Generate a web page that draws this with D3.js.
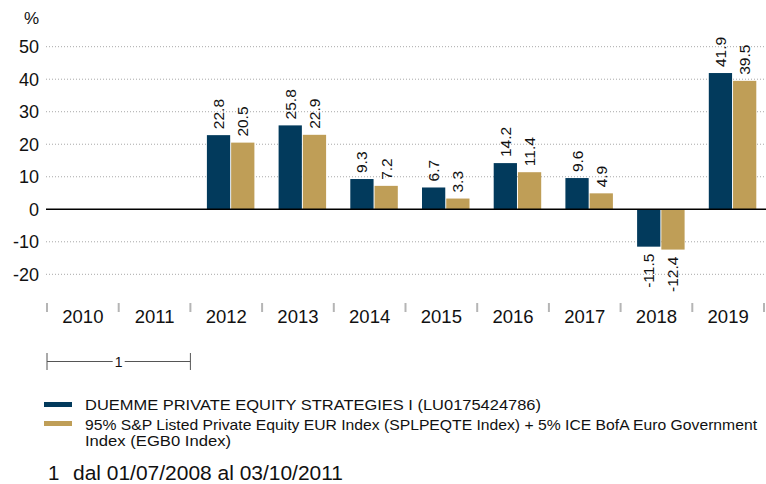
<!DOCTYPE html>
<html lang="it">
<head>
<meta charset="utf-8">
<title>Rendimenti annuali</title>
<script src="https://d3js.org/d3.v7.min.js"></script>
<style>
  body { margin: 0; background: #fff; }
  svg { display: block; font-family: "Liberation Sans", Arial, sans-serif; }
</style>
</head>
<body>
<svg width="766" height="484"></svg>
<script>
// data
const years = ["2010", "2011", "2012", "2013", "2014", "2015", "2016", "2017", "2018", "2019"];
const fundValues = [null, null, 22.8, 25.8, 9.3, 6.7, 14.2, 9.6, -11.5, 41.9];
const benchValues = [null, null, 20.5, 22.9, 7.2, 3.3, 11.4, 4.9, -12.4, 39.5];
const yTicks = [-20, -10, 0, 10, 20, 30, 40, 50];
const seriesNames = [
  "DUEMME PRIVATE EQUITY STRATEGIES I (LU0175424786)",
  "95% S&P Listed Private Equity EUR Index (SPLPEQTE Index) + 5% ICE BofA Euro Government",
  "Index (EGB0 Index)"
];
const footnote = "dal 01/07/2008 al 03/10/2011";

const navy = "#023a5c", gold = "#bf9e57";
const svg = d3.select("svg");

const x = d3.scaleBand().domain(years).range([47, 764]);
const inner = d3.scaleBand().domain(["fund", "bench"]).range([16.5, 64]).paddingInner(0.04);
const y = d3.scaleLinear().domain([-20, 50]).range([274.3, 46.7]);

// gridlines
svg.append("g").selectAll("line")
  .data(yTicks.filter(d => d !== 0))
  .enter().append("line")
  .attr("x1", 46).attr("x2", 766)
  .attr("y1", d => y(d)).attr("y2", d => y(d))
  .attr("stroke", "#a8a8a8").attr("stroke-width", 1)
  .attr("stroke-dasharray", "1,2");

// y labels
svg.append("g").selectAll("text")
  .data(yTicks)
  .enter().append("text")
  .attr("x", 39).attr("y", d => y(d))
  .attr("dy", "0.35em")
  .attr("text-anchor", "end")
  .attr("font-size", 18)
  .attr("fill", "#111")
  .text(d => d);

svg.append("text").attr("x", 39).attr("y", 24)
  .attr("text-anchor", "end").attr("font-size", 17).attr("fill", "#111").text("%");

// bars
const rows = years.map((yr, i) => ({ year: yr, fund: fundValues[i], bench: benchValues[i] }));
const groups = svg.append("g").selectAll("g")
  .data(rows).enter().append("g")
  .attr("transform", d => `translate(${x(d.year)},0)`);

const cells = groups.selectAll("g")
  .data(d => [{ key: "fund", v: d.fund }, { key: "bench", v: d.bench }].filter(c => c.v !== null))
  .enter().append("g");

cells.append("rect")
  .attr("x", d => inner(d.key))
  .attr("width", inner.bandwidth())
  .attr("y", d => y(Math.max(0, d.v)))
  .attr("height", d => Math.abs(y(d.v) - y(0)))
  .attr("fill", d => d.key === "fund" ? navy : gold);

cells.append("text")
  .attr("transform", d => {
    const cx = inner(d.key) + inner.bandwidth() / 2;
    const cy = d.v >= 0 ? y(d.v) - 6 : y(d.v) + 7;
    return `translate(${cx + 5.5},${cy}) rotate(-90)`;
  })
  .attr("text-anchor", d => d.v >= 0 ? "start" : "end")
  .attr("font-size", 15.5)
  .attr("fill", "#111")
  .text(d => d.v.toFixed(1));

// zero line
svg.append("line")
  .attr("x1", 46).attr("x2", 766)
  .attr("y1", y(0)).attr("y2", y(0))
  .attr("stroke", "#000").attr("stroke-width", 1.5);

// x category ticks and labels
svg.append("g").selectAll("line")
  .data(years.concat(["end"]))
  .enter().append("line")
  .attr("x1", (d, i) => 47 + i * x.bandwidth())
  .attr("x2", (d, i) => 47 + i * x.bandwidth())
  .attr("y1", 303).attr("y2", 312)
  .attr("stroke", "#b5b5b5").attr("stroke-width", 2);

svg.append("g").selectAll("text")
  .data(years).enter().append("text")
  .attr("x", d => x(d) + x.bandwidth() / 2)
  .attr("y", 323)
  .attr("text-anchor", "middle")
  .attr("font-size", 18.5)
  .attr("fill", "#111")
  .text(d => d);

// period bracket
const bx0 = x("2010"), bx1 = x("2012");
const br = svg.append("g").attr("stroke", "#555").attr("stroke-width", 1);
br.append("line").attr("x1", bx0).attr("x2", bx0).attr("y1", 353).attr("y2", 370);
br.append("line").attr("x1", bx1).attr("x2", bx1).attr("y1", 353).attr("y2", 370);
br.append("line").attr("x1", bx0).attr("x2", (bx0 + bx1) / 2 - 6).attr("y1", 361.5).attr("y2", 361.5);
br.append("line").attr("x1", (bx0 + bx1) / 2 + 6).attr("x2", bx1).attr("y1", 361.5).attr("y2", 361.5);
svg.append("text").attr("x", (bx0 + bx1) / 2).attr("y", 366.5)
  .attr("text-anchor", "middle").attr("font-size", 14).attr("fill", "#111").text("1");

// legend
svg.append("rect").attr("x", 44).attr("y", 402).attr("width", 28).attr("height", 5).attr("fill", navy);
svg.append("rect").attr("x", 44).attr("y", 421).attr("width", 28).attr("height", 5).attr("fill", gold);
const legendWidths = [456, 672, 146];
const legendY = [410, 430, 446];
svg.append("g").selectAll("text")
  .data(seriesNames).enter().append("text")
  .attr("x", 85).attr("y", (d, i) => legendY[i])
  .attr("font-size", 15)
  .attr("fill", "#111")
  .attr("textLength", (d, i) => legendWidths[i])
  .attr("lengthAdjust", "spacingAndGlyphs")
  .text(d => d);

// footnote
svg.append("text").attr("x", 48).attr("y", 480).attr("font-size", 20.5).attr("fill", "#111").text("1");
svg.append("text").attr("x", 73).attr("y", 480).attr("font-size", 20.5).attr("fill", "#111")
  .attr("textLength", 270).attr("lengthAdjust", "spacingAndGlyphs")
  .text(footnote);
</script>
</body>
</html>
